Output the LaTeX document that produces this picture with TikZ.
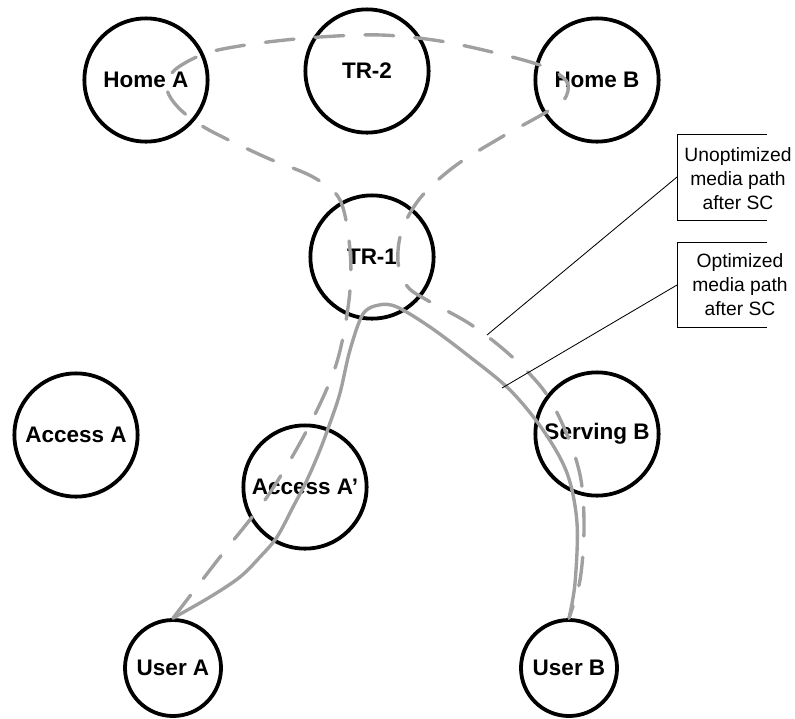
\documentclass[tikz,border=0pt]{standalone}
\usepackage{fontspec}
\setmainfont{Liberation Sans}
\usetikzlibrary{calc}
\definecolor{pathgray}{HTML}{A0A0A0}

\begin{document}
\begin{tikzpicture}[x=0.025cm, y=-0.025cm,
  site/.style={circle, draw=black, line width=2.7pt, minimum size=3.08cm, inner sep=0pt,
    font=\fontsize{16}{18}\selectfont\bfseries},
  user/.style={site, minimum size=2.4cm},
  unopt/.style={draw=pathgray, line width=2.4pt, line cap=round, dash pattern=on 20.5pt off 15pt},
  opt/.style={draw=pathgray, line width=2.4pt, line cap=round},
  note/.style={font=\fontsize{13.7}{17}\selectfont, align=center, inner sep=0pt},
  frame/.style={draw=black, line width=0.7pt},
  leader/.style={draw=black, line width=0.6pt}]
\useasboundingbox (0,0) rectangle (795,718);

% Home and transit networks
\node[site] (homeA) at (146,80) {Home A};
\node[site] (tr2) at (367,71) {TR-2};
\node[site] (homeB) at (597,80) {Home B};
\node[site] (tr1) at (372,257) {TR-1};

% Access and serving networks
\node[site] (accA) at (76,435) {Access A};
\node[site] (accA2) at (305,487) {Access A’};
\node[site] (servB) at (597,434) {Serving B};

% Users
\node[user] (userA) at (173,668) {User A};
\node[user] (userB) at (569,668) {User B};

% Unoptimized media path (via both homes)
\draw[unopt] plot[smooth, tension=0.55] coordinates {
  (userA.north) (220,557) (267,497) (307,430) (336,365) (349,300) (350,250)
  (340,200) (313,177) (265,157) (209,130) (183,112) (169,95) (167,80) (180,66)
  (210,52) (260,43) (320,37) (381,35) (440,41) (500,54) (545,67) (567,82)
  (564,100) (543,114) (500,138) (455,166) (421,197) (402,230) (398,262)
  (407,286) (425,299) (470,324) (510,355) (545,392) (568,437) (581,480)
  (584,530) (580,580) (userB.north)};

% Optimized media path (via TR-1 only)
\draw[opt] plot[smooth, tension=0.55] coordinates {
  (userA.north) (210,597) (240,577) (260,557) (277,537) (293,507) (307,480)
  (320,450) (330,423) (340,393) (350,350) (363,314) (379,305) (397,307)
  (430,327) (470,357) (510,390) (543,430) (567,473) (577,523) (575,583)
  (userB.north)};

% Callouts
\node[note] (unoptNote) at (738,179) {Unoptimized\\media path\\after SC};
\coordinate (unoptEdge) at (677,177);
\coordinate (unoptFoot) at (487,335);
\draw[frame] (767,134) -| (677,220) -- (767,220);
\draw[leader] (unoptEdge) -- (unoptFoot);

\node[note] (optNote) at (740,285) {Optimized\\media path\\after SC};
\coordinate (optEdge) at (677,285);
\coordinate (optFoot) at (502,388);
\draw[frame] (767,242) -| (677,327) -- (767,327);
\draw[leader] (optEdge) -- (optFoot);
\end{tikzpicture}
\end{document}
